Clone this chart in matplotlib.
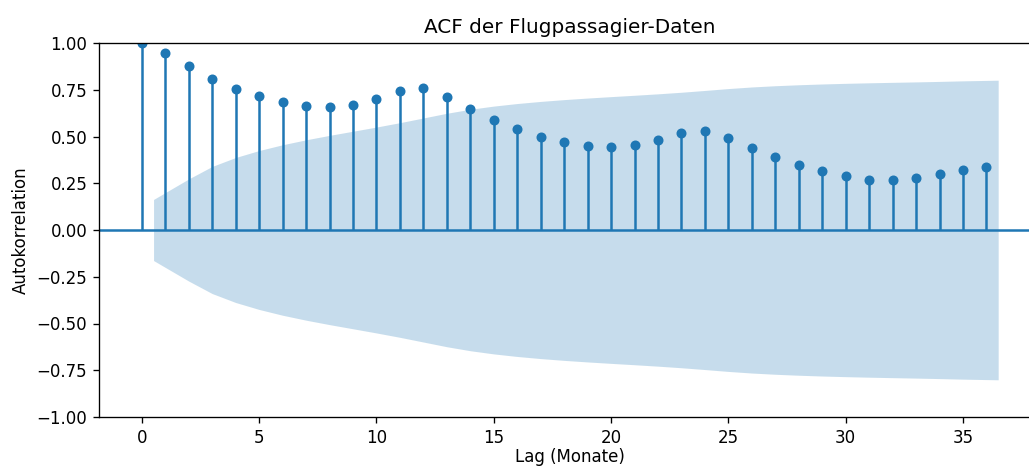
import numpy as np
import matplotlib
matplotlib.use("Agg")
import matplotlib.pyplot as plt

# Autocorrelation of the monthly airline passenger series, lags 0..36
lags = list(range(37))
acf_values = [1.000, 0.948, 0.876, 0.807, 0.753, 0.714, 0.682, 0.663, 0.656,
              0.671, 0.703, 0.743, 0.760, 0.713, 0.646, 0.586, 0.538, 0.500,
              0.469, 0.450, 0.442, 0.457, 0.482, 0.517, 0.532, 0.494, 0.437,
              0.388, 0.350, 0.316, 0.290, 0.270, 0.265, 0.279, 0.300, 0.322,
              0.338]
n_obs = 144
alpha_z = 1.96

acf = np.array(acf_values)
x = np.array(lags)

# Bartlett confidence band (as in statsmodels plot_acf)
var = np.ones(len(acf)) / n_obs
var[2:] *= 1 + 2 * np.cumsum(acf[1:-1] ** 2)
band = alpha_z * np.sqrt(var)
band_x = x[1:].astype(float)
band_x[0] -= 0.5
band_x[-1] += 0.5

fig = plt.figure(figsize=(1029 / 120, 469 / 120), dpi=120)
ax = fig.add_axes([99 / 1029, 52 / 469, 942 / 1029, 374 / 469])

ax.vlines(x, 0, acf, color="C0", linewidth=1.5)
ax.plot(x, acf, marker="o", markersize=5, linestyle="None", color="C0")
ax.axhline(0, color="C0", linewidth=1.5)
ax.fill_between(band_x, -band[1:], band[1:], alpha=0.25, linewidth=0, color="C0")

ax.set_xlim(-1.825, 38.325)
ax.set_ylim(-1, 1)
ax.set_xticks([0, 5, 10, 15, 20, 25, 30, 35])
ax.set_title("ACF der Flugpassagier-Daten")
ax.set_xlabel("Lag (Monate)", labelpad=1)
ax.set_ylabel("Autokorrelation", labelpad=4)

fig.savefig("out.png", dpi=120)
